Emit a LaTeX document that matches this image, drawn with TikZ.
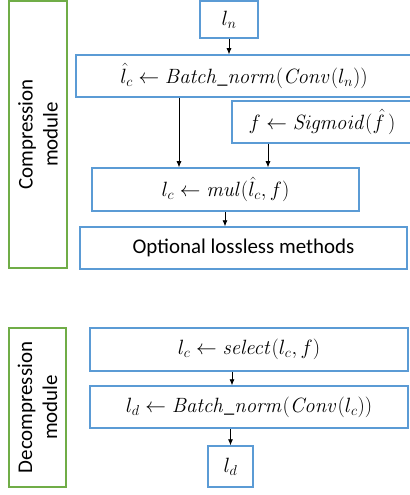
\documentclass[tikz,border=0pt]{standalone}
\usepackage[no-math]{fontspec}
\setmainfont{Carlito}
\usetikzlibrary{arrows.meta}
\definecolor{boxblue}{HTML}{5B9BD5}
\definecolor{boxgreen}{HTML}{70AD47}
\begin{document}
\begin{tikzpicture}[x=1bp,y=-1bp,
  every node/.style={font=\fontsize{21}{25}\selectfont},
  mathtext/.style={font=\fontsize{20.5}{25}\selectfont},
  bluebox/.style={draw=boxblue,line width=1.5bp,inner sep=0pt},
  greenbox/.style={draw=boxgreen,line width=1.5bp,inner sep=0pt},
  arr/.style={-{Latex[length=6bp,width=5bp]},line width=0.7bp,black}]
\useasboundingbox (0,0) rectangle (409,495);
% module boxes
\node[greenbox,minimum width=58bp,minimum height=267bp] (g1) at (38,134.5) {};
\node[rotate=90,align=center] (t1) at (g1.center) {Compression\\module};
\node[greenbox,minimum width=57bp,minimum height=159bp] (g2) at (37.5,407.5) {};
\node[rotate=90,align=center] (t2) at (g2.center) {Decompression\\module};
% compression
\node[bluebox,mathtext,minimum width=58bp,minimum height=37bp] (ln) at (229,19.5) {$l_n$};
\node[bluebox,mathtext,minimum width=336bp,minimum height=42bp] (bn) at (244,76) {$\hat{l}_c \leftarrow \mathit{Batch\_norm}(\mathit{Conv}(l_n))$};
\node[bluebox,mathtext,minimum width=180bp,minimum height=42bp] (sig) at (322,122) {$f \leftarrow \mathit{Sigmoid}(\hat{f}\,)$};
\node[bluebox,mathtext,minimum width=267bp,minimum height=43bp] (mul) at (225.5,189.5) {$l_c \leftarrow \mathit{mul}(\hat{l}_c,f)$};
\node[bluebox,minimum width=327bp,minimum height=42bp] (opt) at (243.5,248) {Optional lossless methods};
% decompression
\node[bluebox,mathtext,minimum width=318bp,minimum height=43bp] (sel) at (249,349.5) {$l_c \leftarrow \mathit{select}(l_c,f)$};
\node[bluebox,mathtext,minimum width=318bp,minimum height=42bp] (bd) at (249,407) {$l_d \leftarrow \mathit{Batch\_norm}(\mathit{Conv}(l_c))$};
\node[bluebox,mathtext,minimum width=45bp,minimum height=41bp] (ld) at (230.5,466.5) {$l_d$};
% arrow columns
\coordinate (x1) at (179,0);
\coordinate (x2) at (268,0);
\coordinate (x3) at (225,0);
\coordinate (x4) at (232,0);
\draw[arr] (ln.south) -- (bn.north -| ln.south);
\draw[arr] (bn.south -| x1) -- (mul.north -| x1);
\draw[arr] (sig.south -| x2) -- (mul.north -| x2);
\draw[arr] (mul.south -| x3) -- (opt.north -| x3);
\draw[arr] (sel.south -| x4) -- (bd.north -| x4);
\draw[arr] (bd.south -| ld.north) -- (ld.north);
\end{tikzpicture}
\end{document}
